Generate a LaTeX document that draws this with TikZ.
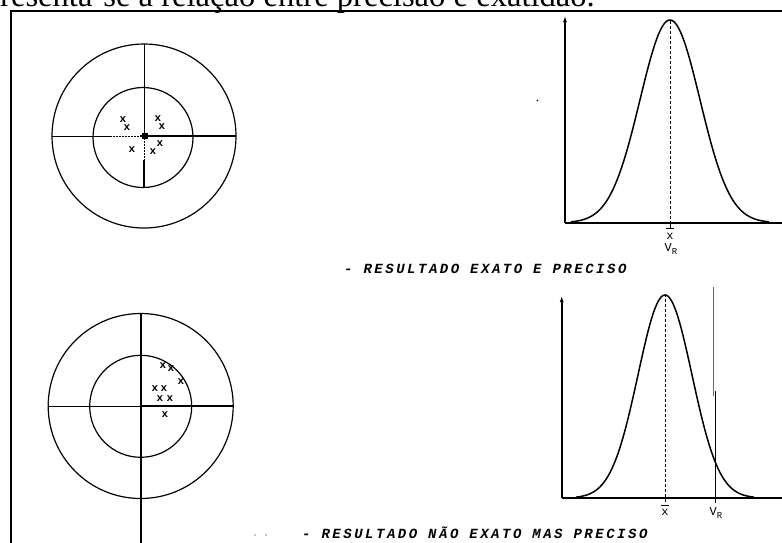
\documentclass[tikz,border=0pt]{standalone}
\usepackage{fontspec}
\setmainfont{Liberation Serif}
\newfontfamily\tw{Liberation Mono}
\usetikzlibrary{arrows.meta}
\begin{document}
\begin{tikzpicture}[x=1pt,y=-1pt,
  frameline/.style={line width=1.8pt},
  ring/.style={line width=1.2pt},
  thinl/.style={line width=0.9pt},
  thickl/.style={line width=2pt},
  dotl/.style={line width=1pt, dash pattern=on 1.5pt off 1.5pt},
  axis/.style={line width=1.7pt},
  curve/.style={line width=1.5pt},
  dashl/.style={line width=0.9pt, dash pattern=on 3pt off 2pt},
  xmark/.style={font=\tw\bfseries\fontsize{11}{11}\selectfont, inner sep=0pt},
  lbl/.style={font=\tw\fontsize{12}{12}\selectfont, inner sep=0pt},
  capt/.style={font=\tw\bfseries\itshape\fontsize{14}{14}\selectfont\addfontfeature{LetterSpace=18}, anchor=west, inner sep=0pt}
]
\useasboundingbox (0,0) rectangle (782,542);
\clip (0,0) rectangle (782,542);
\fill[white] (0,0) rectangle (782,542);

% heading (cropped)
\node[anchor=base west, inner sep=0pt, font=\fontsize{32.6}{33}\selectfont] (head) at (0,6) {resenta-se a relação entre precisão e exatidão.};

% frame
\draw[frameline] (11,543) -- (11,10.8) -- (783,10.8);

% ---------- top target ----------
\coordinate (c1) at (144,136);
\draw[ring] (c1) circle[radius=92pt];
\draw[ring] (143,137.5) circle[radius=50pt];
\draw[thinl] (52,136) -- (110,136);
\draw[dotl] (110,136) -- (140,136);
\draw[thickl] (140,136) -- (236,136);
\draw[thinl] (144,44) -- (144,136);
\draw[dotl] (144,138) -- (144,160);
\draw[thickl] (144,160) -- (144,187);
\fill (141.5,132.5) rectangle (147.5,138.5);
\foreach \p in {(123,120),(127,128),(158,119),(162,127),(132,150),(153,152),(160,144)}
  \node[xmark] at \p {x};

% ---------- bottom target ----------
\coordinate (c2) at (140.7,406);
\draw[ring] (c2) circle[radius=92.5pt];
\draw[ring] (140.7,406.3) circle[radius=51pt];
\draw[thinl] (48,406) -- (140.7,406);
\draw[thickl] (140.7,406) -- (234,406);
\draw[line width=1.6pt] (140.7,313) -- (140.7,543);
\foreach \p in {(163,366),(171,369),(181,382),(155,389),(164,389),(160,399),(170,399),(165,415)}
  \node[xmark] at \p {x};

% ---------- top graph ----------
\coordinate (o1) at (565,222.7);
\draw[axis, -{Latex[length=6pt,width=4pt]}] (o1) -- (565,16);
\draw[axis] (o1) -- (783,222.7);
\draw[curve] plot[domain=-3.3:3.3, samples=120, smooth] ({670+30*\x}, {222.7-202.7*exp(-\x*\x/2)});
\draw[dashl] (670,21) -- (670,222.7);
\draw[thinl] (670,222.7) -- (670,228);
\draw[thinl] (666,228) -- (674,228);
\node[lbl] (xb1) at (670,236) {x};
\node[lbl] (vr1) at (671,249) {V\raisebox{-2.5pt}{\fontsize{9}{9}\selectfont R}};

\node[capt] (cap1) at (344,269) {- RESULTADO EXATO E PRECISO};

% ---------- bottom graph ----------
\coordinate (o2) at (561.7,498);
\draw[axis, -{Latex[length=6pt,width=4pt]}] (o2) -- (561.7,296);
\draw[axis] (o2) -- (783,498);
\draw[curve] plot[domain=-3.3:3.3, samples=120, smooth] ({665+27*\x}, {498-203*exp(-\x*\x/2)});
\draw[dashl] (665,294) -- (665,503);
\draw[thinl] (661,505) -- (669,505);
\node[lbl] (xb2) at (665,512) {x};
\draw[line width=1pt, black!60] (713,287) -- (713,396);
\draw[line width=1pt] (715,391) -- (715,503);
\node[lbl] (vr2) at (716,513) {V\raisebox{-3pt}{\fontsize{9}{9}\selectfont R}};

\node[capt] (cap2) at (302,533) {- RESULTADO NÃO EXATO MAS PRECISO};

% specks
\fill (537.5,100.5) circle (0.9pt);
\fill (255,535) circle (0.6pt);
\fill (266,535) circle (0.6pt);
\end{tikzpicture}
\end{document}
